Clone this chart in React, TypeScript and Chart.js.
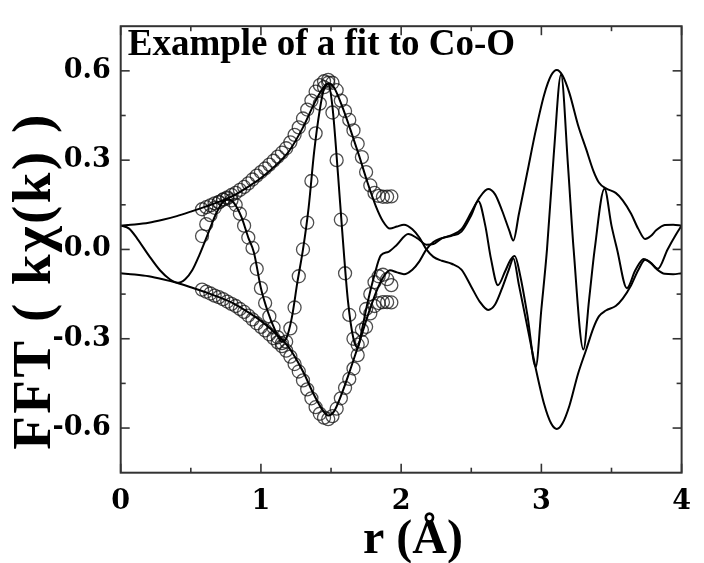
import React, { useEffect, useRef } from "react";
import { Chart, registerables } from "chart.js";
Chart.register(...registerables);

// ---- model (fit) curves: the two magnitude branches (they cross near 2.18 Å) ----
const fitEnvR = [0, 0.1, 0.2, 0.3, 0.4, 0.5, 0.6, 0.7, 0.8, 0.9, 1.0, 1.1, 1.2, 1.3, 1.38, 1.44, 1.48, 1.52, 1.58, 1.64, 1.7, 1.76, 1.82, 1.87, 1.92, 1.97, 2.02, 2.08, 2.13, 2.18, 2.23, 2.29, 2.36, 2.43, 2.5, 2.56, 2.62, 2.67, 2.72, 2.77, 2.8, 2.84, 2.9, 2.96, 3.02, 3.07, 3.11, 3.15, 3.2, 3.26, 3.32, 3.37, 3.41, 3.46, 3.53, 3.58, 3.64, 3.69, 3.74, 3.78, 3.82, 3.88, 3.94, 4.0];
const fitEnvA = [0.08, 0.084, 0.09, 0.1, 0.112, 0.127, 0.143, 0.16, 0.18, 0.208, 0.24, 0.28, 0.33, 0.41, 0.49, 0.54, 0.558, 0.545, 0.48, 0.4, 0.315, 0.225, 0.145, 0.095, 0.07, 0.077, 0.083, 0.068, 0.04, 0.0, -0.025, -0.038, -0.048, -0.068, -0.125, -0.175, -0.203, -0.185, -0.13, -0.065, -0.03, -0.12, -0.26, -0.4, -0.52, -0.585, -0.603, -0.585, -0.525, -0.42, -0.336, -0.265, -0.225, -0.205, -0.19, -0.165, -0.12, -0.07, -0.035, -0.045, -0.065, -0.082, -0.083, -0.08];
const fitEnvB = [-0.08, -0.084, -0.09, -0.1, -0.112, -0.127, -0.143, -0.16, -0.18, -0.208, -0.24, -0.28, -0.33, -0.41, -0.49, -0.54, -0.558, -0.545, -0.48, -0.4, -0.315, -0.225, -0.145, -0.095, -0.07, -0.077, -0.083, -0.068, -0.04, 0.0, 0.025, 0.038, 0.048, 0.068, 0.125, 0.175, 0.203, 0.185, 0.13, 0.065, 0.03, 0.12, 0.26, 0.4, 0.52, 0.585, 0.603, 0.585, 0.525, 0.42, 0.336, 0.265, 0.225, 0.205, 0.19, 0.165, 0.12, 0.07, 0.035, 0.045, 0.065, 0.082, 0.083, 0.08];

// ---- model (fit) oscillating part ----
const fitOscR = [0, 0.06, 0.12, 0.2, 0.28, 0.35, 0.41, 0.46, 0.51, 0.56, 0.62, 0.68, 0.73, 0.77, 0.81, 0.86, 0.91, 0.95, 1.0, 1.05, 1.1, 1.15, 1.18, 1.22, 1.26, 1.3, 1.34, 1.38, 1.42, 1.45, 1.48, 1.51, 1.55, 1.58, 1.62, 1.66, 1.69, 1.72, 1.76, 1.81, 1.855, 1.91, 1.97, 2.05, 2.12, 2.18, 2.23, 2.29, 2.36, 2.43, 2.5, 2.55, 2.6, 2.64, 2.69, 2.74, 2.78, 2.81, 2.85, 2.9, 2.96, 3.0, 3.04, 3.09, 3.14, 3.19, 3.23, 3.3, 3.34, 3.38, 3.45, 3.5, 3.54, 3.61, 3.67, 3.73, 3.78, 3.83, 3.9, 3.96, 4.0];
const fitOsc = [0.08, 0.07, 0.035, -0.02, -0.07, -0.1, -0.112, -0.1, -0.07, -0.02, 0.05, 0.12, 0.16, 0.168, 0.155, 0.11, 0.04, -0.01, -0.13, -0.21, -0.27, -0.31, -0.3, -0.23, -0.11, 0.0, 0.14, 0.33, 0.47, 0.54, 0.556, 0.48, 0.25, 0.06, -0.17, -0.3, -0.33, -0.27, -0.18, -0.085, -0.02, -0.008, 0.016, 0.052, 0.036, 0.016, 0.018, 0.037, 0.046, 0.06, 0.115, 0.163, 0.08, -0.03, -0.12, -0.075, -0.035, -0.022, -0.09, -0.22, -0.395, -0.2, 0.0, 0.33, 0.587, 0.28, 0.0, -0.336, -0.17, 0.0, 0.204, 0.08, 0.0, -0.13, -0.07, -0.032, -0.045, -0.065, 0.0, 0.05, 0.08];

// ---- measured data (circles) ----
const dataR = [0.58, 0.61, 0.64, 0.67, 0.70, 0.73, 0.76, 0.79, 0.82, 0.85, 0.88, 0.91, 0.94, 0.97, 1.00, 1.03, 1.06, 1.09, 1.12, 1.15, 1.18, 1.21, 1.24, 1.27, 1.30, 1.33, 1.36, 1.39, 1.42, 1.45, 1.48, 1.51, 1.54, 1.57, 1.60, 1.63, 1.66, 1.69, 1.72, 1.75, 1.78, 1.81, 1.84, 1.87, 1.90, 1.93];
const dataMag = [0.135, 0.142, 0.148, 0.155, 0.16, 0.167, 0.175, 0.183, 0.19, 0.2, 0.21, 0.222, 0.235, 0.248, 0.26, 0.272, 0.285, 0.298, 0.312, 0.325, 0.34, 0.36, 0.385, 0.41, 0.44, 0.47, 0.5, 0.53, 0.552, 0.565, 0.57, 0.56, 0.535, 0.5, 0.465, 0.435, 0.4, 0.355, 0.31, 0.26, 0.215, 0.19, 0.18, 0.177, 0.177, 0.178];
const dataMagNeg = [-0.135, -0.142, -0.148, -0.155, -0.16, -0.167, -0.175, -0.183, -0.19, -0.2, -0.21, -0.222, -0.235, -0.248, -0.26, -0.272, -0.285, -0.298, -0.312, -0.325, -0.34, -0.36, -0.385, -0.41, -0.44, -0.47, -0.5, -0.53, -0.552, -0.565, -0.57, -0.56, -0.535, -0.5, -0.465, -0.435, -0.4, -0.355, -0.31, -0.26, -0.215, -0.19, -0.18, -0.177, -0.177, -0.178];
const dataOsc = [0.045, 0.085, 0.115, 0.14, 0.158, 0.168, 0.172, 0.165, 0.15, 0.12, 0.08, 0.04, 0.005, -0.065, -0.13, -0.18, -0.225, -0.262, -0.295, -0.315, -0.31, -0.265, -0.195, -0.09, 0.0, 0.09, 0.23, 0.39, 0.49, 0.545, 0.56, 0.46, 0.3, 0.1, -0.08, -0.22, -0.3, -0.32, -0.27, -0.2, -0.15, -0.11, -0.09, -0.085, -0.1, -0.12];

// ---- axes ----
const xTicks = [0, 1, 2, 3, 4];
const xMinor = [0.5, 1.5, 2.5, 3.5];
const yTicks = [-0.6, -0.3, 0.0, 0.3, 0.6];
const yMinor = [-0.45, -0.15, 0.15, 0.45];
const xMin = 0, xMax = 4, yMin = -0.75, yMax = 0.75;
const titleText = "Example of a fit to Co-O";
const xTitle = "r (Å)";
const yTitle = "FFT ( kχ(k) )";

const W = 704, H = 563;
const serif = '"Liberation Serif", "Times New Roman", serif';
const tickFamily = '"DejaVu Serif", serif';

const pts = (xs: number[], ys: number[]) => xs.map((x, i) => ({ x, y: ys[i] }));

export default function App() {
  const ref = useRef<HTMLCanvasElement | null>(null);
  useEffect(() => {
    if (!ref.current) return;
    const lineDs = (d: { x: number; y: number }[]) => ({
      data: d,
      showLine: true,
      borderColor: "#000",
      borderWidth: 2,
      pointRadius: 0,
      fill: false,
      cubicInterpolationMode: "monotone" as const,
    });
    const circDs = (d: { x: number; y: number }[]) => ({
      data: d,
      showLine: false,
      borderColor: "rgba(20,20,20,0.75)",
      backgroundColor: "rgba(0,0,0,0)",
      pointRadius: 6.5,
      pointBorderWidth: 1.3,
      pointStyle: "circle" as const,
    });
    const decor = {
      id: "decor",
      afterDraw(chart: any) {
        const { ctx, chartArea: a, scales } = chart;
        const xs = scales.x, ys = scales.y;
        ctx.save();
        ctx.strokeStyle = "#333";
        ctx.lineWidth = 1.6;
        const ln = (x1: number, y1: number, x2: number, y2: number) => {
          ctx.beginPath(); ctx.moveTo(x1, y1); ctx.lineTo(x2, y2); ctx.stroke();
        };
        const tickX = (v: number, len: number) => {
          const p = xs.getPixelForValue(v);
          ln(p, a.bottom, p, a.bottom - len);
          ln(p, a.top, p, a.top + len);
        };
        const tickY = (v: number, len: number) => {
          const p = ys.getPixelForValue(v);
          ln(a.left, p, a.left + len, p);
          ln(a.right, p, a.right - len, p);
        };
        xTicks.forEach((v) => tickX(v, 9));
        xMinor.forEach((v) => tickX(v, 5));
        yTicks.forEach((v) => tickY(v, 9));
        yMinor.forEach((v) => tickY(v, 5));
        ctx.lineWidth = 2;
        ctx.strokeRect(a.left, a.top, a.right - a.left, a.bottom - a.top);
        ctx.fillStyle = "#000";
        // title inside plot
        ctx.font = `bold 37px ${serif}`;
        ctx.textAlign = "left";
        ctx.textBaseline = "alphabetic";
        ctx.fillText(titleText, a.left + 7, a.top + 29);
        // x axis title
        ctx.textAlign = "center";
        ctx.font = `bold 48px ${serif}`;
        ctx.fillText(xTitle, 413, 553);
        // y axis title
        ctx.save();
        ctx.translate(50, 281);
        ctx.rotate(-Math.PI / 2);
        ctx.textAlign = "center";
        ctx.font = `bold 55px ${serif}`;
        (ctx as any).letterSpacing = "2.5px";
        ctx.fillText(yTitle, 0, 0);
        ctx.restore();
        ctx.restore();
      },
    };
    const chart = new Chart(ref.current, {
      type: "line",
      data: {
        datasets: [
          lineDs(pts(fitEnvR, fitEnvA)),
          lineDs(pts(fitEnvR, fitEnvB)),
          lineDs(pts(fitOscR, fitOsc)),
          circDs(pts(dataR, dataMag)),
          circDs(pts(dataR, dataMagNeg)),
          circDs(pts(dataR, dataOsc)),
        ] as any,
      },
      options: {
        animation: false,
        responsive: false,
        devicePixelRatio: 1,
        layout: { padding: { left: 0, right: 9.7, top: 12.7, bottom: 0 } },
        plugins: { legend: { display: false }, tooltip: { enabled: false }, title: { display: false } },
        scales: {
          x: {
            type: "linear",
            min: xMin,
            max: xMax,
            grid: { display: false, drawTicks: false },
            border: { display: false },
            afterBuildTicks: (s: any) => { s.ticks = xTicks.map((v) => ({ value: v })); },
            afterFit: (s: any) => { s.height = 90.3; },
            ticks: {
              padding: 13,
              color: "#000",
              font: { family: tickFamily, size: 27, weight: "bold" },
              callback: (v: any) => String(v),
            },
          },
          y: {
            type: "linear",
            min: yMin,
            max: yMax,
            grid: { display: false, drawTicks: false },
            border: { display: false },
            afterBuildTicks: (s: any) => { s.ticks = yTicks.map((v) => ({ value: v })); },
            afterFit: (s: any) => { s.width = 120.7; },
            ticks: {
              padding: 10,
              color: "#000",
              font: { family: tickFamily, size: 27, weight: "bold" },
              callback: (v: any) => Number(v).toFixed(1),
            },
          },
        },
      } as any,
      plugins: [decor],
    });
    return () => chart.destroy();
  }, []);
  return (
    <div style={{ position: "fixed", left: 0, top: 0, width: W, height: H, background: "#fff" }}>
      <canvas ref={ref} width={W} height={H} style={{ width: W, height: H, display: "block" }} />
    </div>
  );
}
